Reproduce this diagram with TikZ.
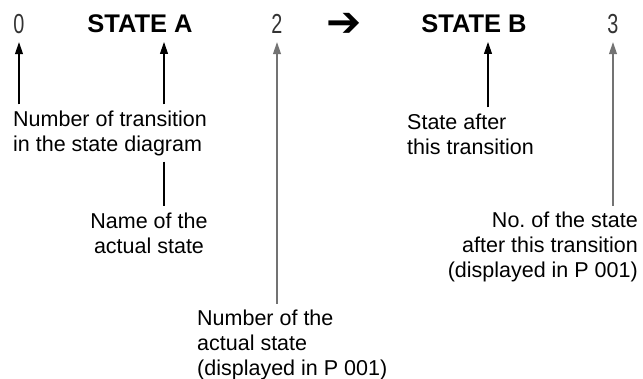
\documentclass[tikz,border=0pt]{standalone}
\usepackage{fontspec}
\setmainfont{Liberation Sans}
\newfontfamily\symfont{DejaVu Sans}
\usetikzlibrary{arrows.meta}
\newcommand\segdigit[1]{\scalebox{.72}[1]{#1}}

\begin{document}
\begin{tikzpicture}[x=1pt,y=-1pt,
  txt/.style={inner sep=0pt, font=\fontsize{21.5}{25}\selectfont},
  top/.style={inner sep=0pt, minimum height=36pt, font=\fontsize{25.5}{28}\selectfont},
  digit/.style={top, text=black!80, font=\fontsize{27.5}{28}\selectfont},
  pointer/.style={line width=1.1pt, -{Triangle[length=12pt,width=8pt]}, shorten <=6pt},
  lead/.style={line width=1.1pt, shorten <=6pt, shorten >=6pt}]
\useasboundingbox (0,0) rectangle (643,379);
\node[digit] (zero) at (19,24) {\segdigit{0}};
\node[top, font=\fontsize{25.5}{28}\selectfont\bfseries] (stateA) at (140,24) {STATE A};
\node[digit] (numA) at (277,24) {\segdigit{2}};
\node[top, font=\fontsize{42}{42}\selectfont\symfont\bfseries] (trsym) at (344,25) {➔};
\node[top, font=\fontsize{25.5}{28}\selectfont\bfseries] (stateB) at (474,24) {STATE B};
\node[digit] (numB) at (613,24) {\segdigit{3}};
\coordinate (tipA) at (164,42);
\coordinate (tipB) at (488,42);
\node[txt, anchor=west, align=left] (trans) at (13,133) {Number of transition\\in the state diagram};
\node[txt, align=center] (name) at (149,233) {Name of the\\actual state};
\node[txt, anchor=west, align=left] (numAtxt) at (197,345) {Number of the\\actual state\\(displayed in P 001)};
\node[txt, anchor=west, align=left] (after) at (407,134) {State after\\this transition};
\node[txt, anchor=east, align=right] (numBtxt) at (638,247) {No.\ of the state\\after this transition\\(displayed in P 001)};
\draw[pointer] (trans.north -| zero.south) -- (zero.south);
\draw[pointer] (trans.north -| tipA) -- (tipA);
\draw[lead] (trans.south -| tipA) -- (name.north -| tipA);
\draw[pointer, black!55] (numAtxt.north -| numA.south) -- (numA.south);
\draw[pointer] (after.north -| tipB) -- (tipB);
\draw[pointer, black!55] (numBtxt.north -| numB.south) -- (numB.south);
\end{tikzpicture}
\end{document}
